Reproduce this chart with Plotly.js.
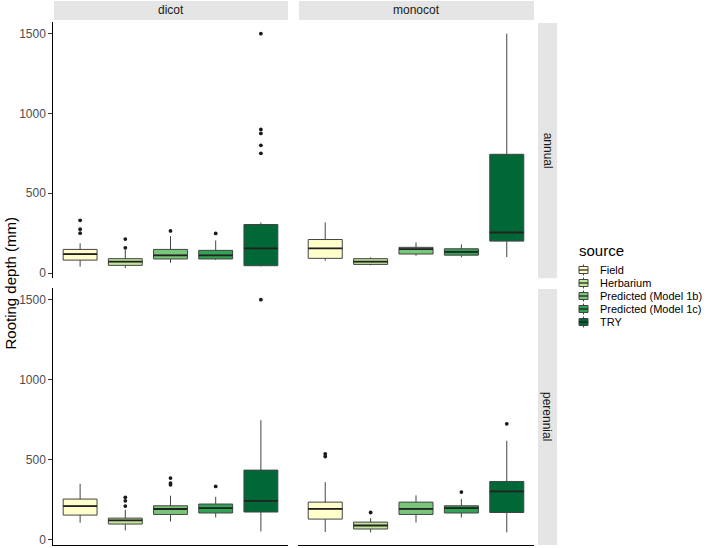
<!DOCTYPE html>
<html>
<head>
<meta charset="utf-8">
<script src="https://cdn.plot.ly/plotly-3.0.1.min.js"></script>
<style>
  html, body { margin: 0; padding: 0; background: #ffffff; }
  #chart { width: 709px; height: 548px; }
</style>
</head>
<body>
<div id="chart"></div>
<script>
// Categories and facets
const sources = ['Field', 'Herbarium', 'Predicted (Model 1b)', 'Predicted (Model 1c)', 'TRY'];
const sourceColors = ['#FFFFCC', '#C2E699', '#78C679', '#31A354', '#006837'];
const groups = ['dicot', 'monocot'];
const lifespans = ['annual', 'perennial'];
const yTickVals = [0, 500, 1000, 1500];

// Box summaries per source: [lower whisker, Q1, median, Q3, upper whisker] (mm)
const dicotAnnual = [
  [40, 81, 119, 148, 186],
  [31, 48, 71, 90, 144],
  [64, 88, 111, 148, 231],
  [82, 88, 111, 142, 204],
  [42, 46, 154, 304, 317]
];
const dicotAnnualOutliers = [[330, 275, 250], [213, 158], [264], [248], [1500, 900, 875, 800, 750]];

const monocotAnnual = [
  [77, 92, 154, 210, 317],
  [48, 54, 71, 90, 98],
  [108, 119, 150, 161, 192],
  [98, 112, 133, 152, 179],
  [100, 200, 254, 744, 1500]
];
const monocotAnnualOutliers = [[], [], [], [], []];

const dicotPerennial = [
  [106, 154, 210, 254, 350],
  [58, 98, 121, 135, 187],
  [114, 158, 192, 212, 275],
  [139, 167, 198, 223, 268],
  [52, 173, 243, 435, 747]
];
const dicotPerennialOutliers = [[], [265, 243, 210], [385, 354, 343], [333], [1500]];

const monocotPerennial = [
  [48, 129, 193, 235, 360],
  [46, 67, 89, 110, 135],
  [108, 158, 193, 235, 277],
  [139, 167, 198, 212, 254],
  [46, 170, 302, 364, 618]
];
const monocotPerennialOutliers = [[537, 520], [170], [], [298], [724]];

// ---- layout helpers (pixel -> paper) ----
const W = 709, H = 548;
const px = v => v / W;
const py = v => 1 - v / H;

const FONT = 'Liberation Sans, Arial, Helvetica, sans-serif';
const BOX_W = 0.75;
const Y_RANGE = [-33, 1573];

// panel pixel extents
const colX = [[53, 288], [298, 534]];
const rowY = [[22, 278.3], [288, 545]];

const panels = [
  { stats: dicotAnnual, out: dicotAnnualOutliers, col: 0, row: 0 },
  { stats: monocotAnnual, out: monocotAnnualOutliers, col: 1, row: 0 },
  { stats: dicotPerennial, out: dicotPerennialOutliers, col: 0, row: 1 },
  { stats: monocotPerennial, out: monocotPerennialOutliers, col: 1, row: 1 }
];

const traces = [];
const layout = {
  width: W, height: H,
  margin: { l: 0, r: 0, t: 0, b: 0 },
  paper_bgcolor: '#ffffff',
  plot_bgcolor: '#ffffff',
  showlegend: false,
  boxmode: 'overlay',
  font: { family: FONT, color: '#1a1a1a' },
  shapes: [],
  annotations: []
};

panels.forEach((p, k) => {
  const n = k + 1;
  const xa = n === 1 ? 'x' : 'x' + n;
  const ya = n === 1 ? 'y' : 'y' + n;
  const xKey = n === 1 ? 'xaxis' : 'xaxis' + n;
  const yKey = n === 1 ? 'yaxis' : 'yaxis' + n;
  const bottom = p.row === 1;
  const left = p.col === 0;

  layout[xKey] = {
    domain: [px(colX[p.col][0]), px(colX[p.col][1])],
    anchor: ya,
    range: [-0.6, sources.length - 0.4],
    showgrid: false, zeroline: false, showticklabels: false, ticks: '',
    showline: bottom, linecolor: '#000000', linewidth: 1.2,
    fixedrange: true
  };
  layout[yKey] = {
    domain: [py(rowY[p.row][1]), py(rowY[p.row][0])],
    anchor: xa,
    range: Y_RANGE,
    showgrid: false, zeroline: false,
    showline: left, linecolor: '#000000', linewidth: 1.2,
    showticklabels: left,
    tickvals: yTickVals,
    ticktext: yTickVals.map(String),
    ticks: left ? 'outside' : '',
    ticklen: 3.5, tickwidth: 1, tickcolor: '#333333',
    tickfont: { family: FONT, size: 12, color: '#4d4d4d' },
    fixedrange: true
  };

  p.stats.forEach((s, i) => {
    traces.push({
      type: 'box',
      orientation: 'v',
      x: [i],
      lowerfence: [s[0]], q1: [s[1]], median: [s[2]], q3: [s[3]], upperfence: [s[4]],
      width: BOX_W,
      whiskerwidth: 0,
      fillcolor: sourceColors[i],
      line: { color: '#444444', width: 1 },
      boxpoints: false,
      name: sources[i],
      xaxis: xa, yaxis: ya,
      hoverinfo: 'skip'
    });
    // thicker median bar, as drawn by the boxplot geom
    traces.push({
      type: 'scatter', mode: 'lines',
      x: [i - BOX_W / 2, i + BOX_W / 2],
      y: [s[2], s[2]],
      line: { color: '#222222', width: 1.8 },
      xaxis: xa, yaxis: ya, hoverinfo: 'skip'
    });
  });

  const ox = [], oy = [];
  p.out.forEach((vals, i) => vals.forEach(v => { ox.push(i); oy.push(v); }));
  traces.push({
    type: 'scatter', mode: 'markers',
    x: ox, y: oy,
    marker: { color: '#1a1a1a', size: 3.8 },
    xaxis: xa, yaxis: ya, hoverinfo: 'skip'
  });
});

// facet strips: top (groups)
groups.forEach((g, c) => {
  layout.shapes.push({
    type: 'rect', xref: 'paper', yref: 'paper', layer: 'below',
    x0: px(colX[c][0] + 1), x1: px(colX[c][1]), y0: py(20), y1: py(1),
    fillcolor: '#e5e5e5', line: { width: 0 }
  });
  layout.annotations.push({
    xref: 'paper', yref: 'paper', x: px((colX[c][0] + colX[c][1]) / 2), y: py(10.5),
    text: g, showarrow: false, xanchor: 'center', yanchor: 'middle',
    font: { family: FONT, size: 12, color: '#1a1a1a' }
  });
});

// facet strips: right (lifespans)
lifespans.forEach((l, r) => {
  layout.shapes.push({
    type: 'rect', xref: 'paper', yref: 'paper', layer: 'below',
    x0: px(538), x1: px(557), y0: py(rowY[r][1]), y1: py(rowY[r][0] + 1),
    fillcolor: '#e5e5e5', line: { width: 0 }
  });
  layout.annotations.push({
    xref: 'paper', yref: 'paper', x: px(547.5), y: py((rowY[r][0] + rowY[r][1]) / 2),
    text: l, showarrow: false, textangle: 90, xanchor: 'center', yanchor: 'middle',
    font: { family: FONT, size: 12, color: '#1a1a1a' }
  });
});

// y axis title shared by both rows
layout.annotations.push({
  xref: 'paper', yref: 'paper', x: px(10), y: py((rowY[0][0] + rowY[1][1]) / 2),
  text: 'Rooting depth (mm)', showarrow: false, textangle: -90,
  xanchor: 'center', yanchor: 'middle',
  font: { family: FONT, size: 15, color: '#000000' }
});

// legend: title, box keys and labels
const legTitleY = 250, legFirstY = 270, legStep = 13;
const keyX0 = 579, keyX1 = 588, keyXc = 583.5, labelX = 598;
layout.annotations.push({
  xref: 'paper', yref: 'paper', x: px(577), y: py(legTitleY),
  text: 'source', showarrow: false, xanchor: 'left', yanchor: 'middle',
  font: { family: FONT, size: 15, color: '#000000' }
});
sources.forEach((s, i) => {
  const cy = legFirstY + i * legStep;
  layout.shapes.push({
    type: 'line', xref: 'paper', yref: 'paper',
    x0: px(keyXc), x1: px(keyXc), y0: py(cy + 5.5), y1: py(cy - 5.5),
    line: { color: '#444444', width: 1 }
  });
  layout.shapes.push({
    type: 'rect', xref: 'paper', yref: 'paper',
    x0: px(keyX0), x1: px(keyX1), y0: py(cy + 3.5), y1: py(cy - 3.5),
    fillcolor: sourceColors[i], line: { color: '#444444', width: 1 }
  });
  layout.shapes.push({
    type: 'line', xref: 'paper', yref: 'paper',
    x0: px(keyX0), x1: px(keyX1), y0: py(cy), y1: py(cy),
    line: { color: '#1a1a1a', width: 1.2 }
  });
  layout.annotations.push({
    xref: 'paper', yref: 'paper', x: px(labelX), y: py(cy),
    text: s, showarrow: false, xanchor: 'left', yanchor: 'middle',
    font: { family: FONT, size: 11, color: '#000000' }
  });
});

Plotly.newPlot('chart', traces, layout, { displayModeBar: false, staticPlot: true });
</script>
</body>
</html>
